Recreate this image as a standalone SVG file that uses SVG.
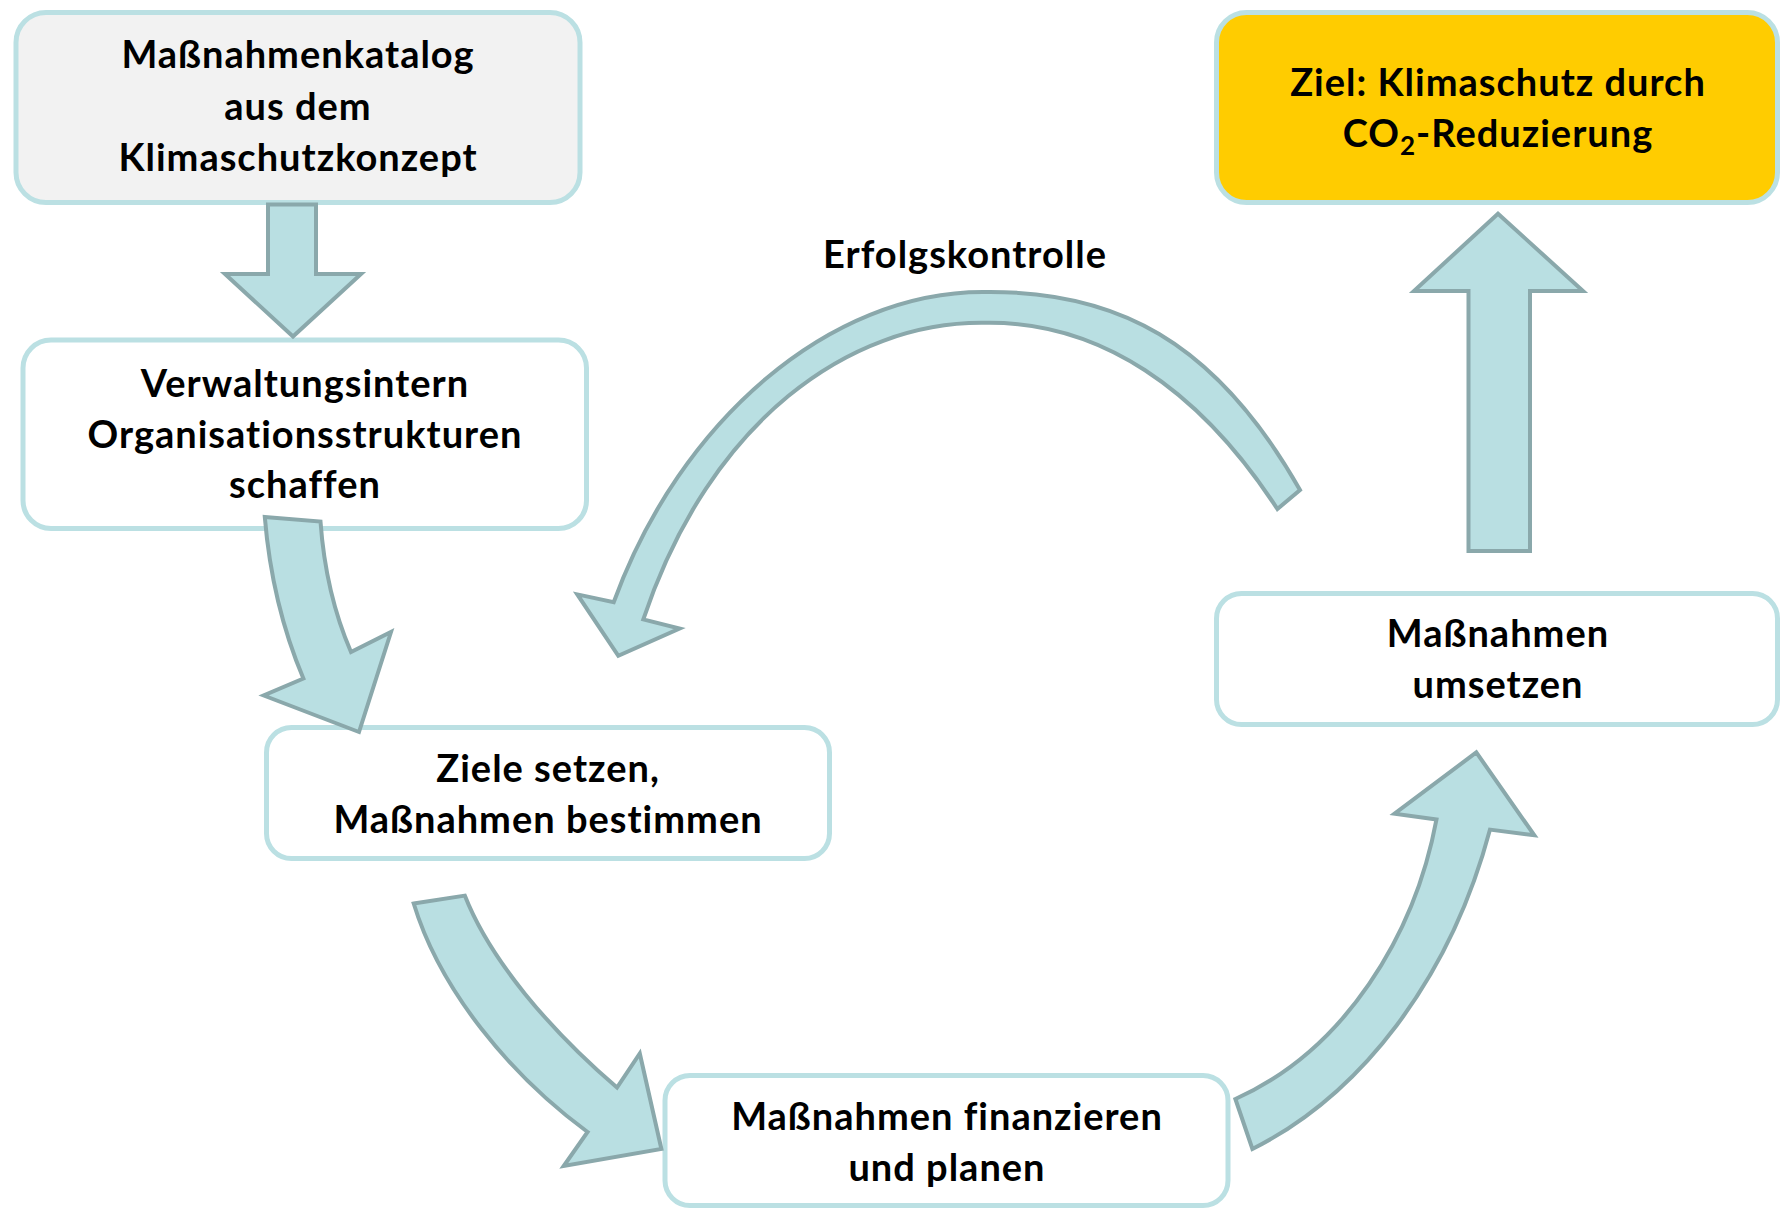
<svg xmlns="http://www.w3.org/2000/svg" width="1782" height="1210" viewBox="0 0 1782 1210">
<style>
.box{fill:#FFFFFF;stroke:#BBE0E3;stroke-width:5}
.gray{fill:#F2F2F2}
.gold{fill:#FFCC00}
.t{font-family:Lato,"Liberation Sans",sans-serif;font-weight:bold;font-size:38px;letter-spacing:1px;fill:#000;text-anchor:middle}
.arr{fill:#B9DFE2;stroke:#8AA8AB;stroke-width:4;stroke-linejoin:miter}
</style>
<rect width="1782" height="1210" fill="#FFFFFF"/>
<g id="katalog">
<rect class="box gray" x="16" y="12.5" width="564" height="190" rx="30"/>
<text class="t" x="298" y="68">Maßnahmenkatalog</text>
<text class="t" x="298" y="119.5">aus dem</text>
<text class="t" x="298" y="170.5">Klimaschutzkonzept</text>
</g>
<g id="ziel">
<rect class="box gold" x="1216.5" y="12.5" width="561" height="190" rx="30"/>
<text class="t" x="1498" y="95.5">Ziel: Klimaschutz durch</text>
<text class="t" x="1498" y="146.5">CO<tspan font-size="26" dy="8">2</tspan><tspan dy="-8">-Reduzierung</tspan></text>
</g>
<g id="verwaltung">
<rect class="box" x="23" y="340" width="563.5" height="188.5" rx="28"/>
<text class="t" x="305" y="396.5">Verwaltungsintern</text>
<text class="t" x="305" y="447.5">Organisationsstrukturen</text>
<text class="t" x="305" y="498">schaffen</text>
</g>
<g id="ziele">
<rect class="box" x="266.5" y="727.5" width="563" height="131" rx="25"/>
<text class="t" x="548" y="782">Ziele setzen,</text>
<text class="t" x="548" y="833">Maßnahmen bestimmen</text>
</g>
<g id="finanzieren">
<rect class="box" x="665" y="1075.5" width="563" height="130" rx="25"/>
<text class="t" x="947" y="1130">Maßnahmen finanzieren</text>
<text class="t" x="947" y="1181">und planen</text>
</g>
<g id="umsetzen">
<rect class="box" x="1216.5" y="593.5" width="561" height="131" rx="25"/>
<text class="t" x="1498" y="647">Maßnahmen</text>
<text class="t" x="1498" y="698">umsetzen</text>
</g>
<g id="connectors">
<path class="arr" d="M268 204.6 L316 204.6 L316 274 L361 274 L293 336.5 L225 274 L268 274 Z"/>
<path class="arr" d="M264.8 517 L320.5 521.6 C324 570 335 615 351 652 L391 632 L359 732 L263.7 695.5 L303.4 678.5 C285 635 270 580 264.8 517 Z"/>
<path class="arr" d="M413.7 903.5 L464.8 895.6 C490 960 550 1030 617 1087.6 L639.8 1053.5 L661.4 1149 L563.7 1166 L587.6 1132 C510 1075 440 990 413.7 903.5 Z"/>
<path class="arr" d="M1235.4 1099 L1252.4 1149 C1360 1095 1450 980 1490 829.6 L1534.3 835.3 L1476.3 752.4 L1394.5 813.7 L1436.5 819.4 C1415 935 1345 1050 1235.4 1099 Z"/>
<path class="arr" d="M1277.4 509 L1300 490 C1215 340 1115 290 983 292 C830 292 680 420 613.7 602.3 L577.3 594.4 L618.3 655.8 L679.6 628.5 L643.3 619.4 C710 420 850 322 983 322.8 C1100 320 1200 390 1277.4 509 Z"/>
<path class="arr" d="M1468.5 551 L1530 551 L1530 291 L1583 291 L1498 213.7 L1414 291 L1468.5 291 Z"/>
</g>
<text class="t" x="965" y="268">Erfolgskontrolle</text>
</svg>
